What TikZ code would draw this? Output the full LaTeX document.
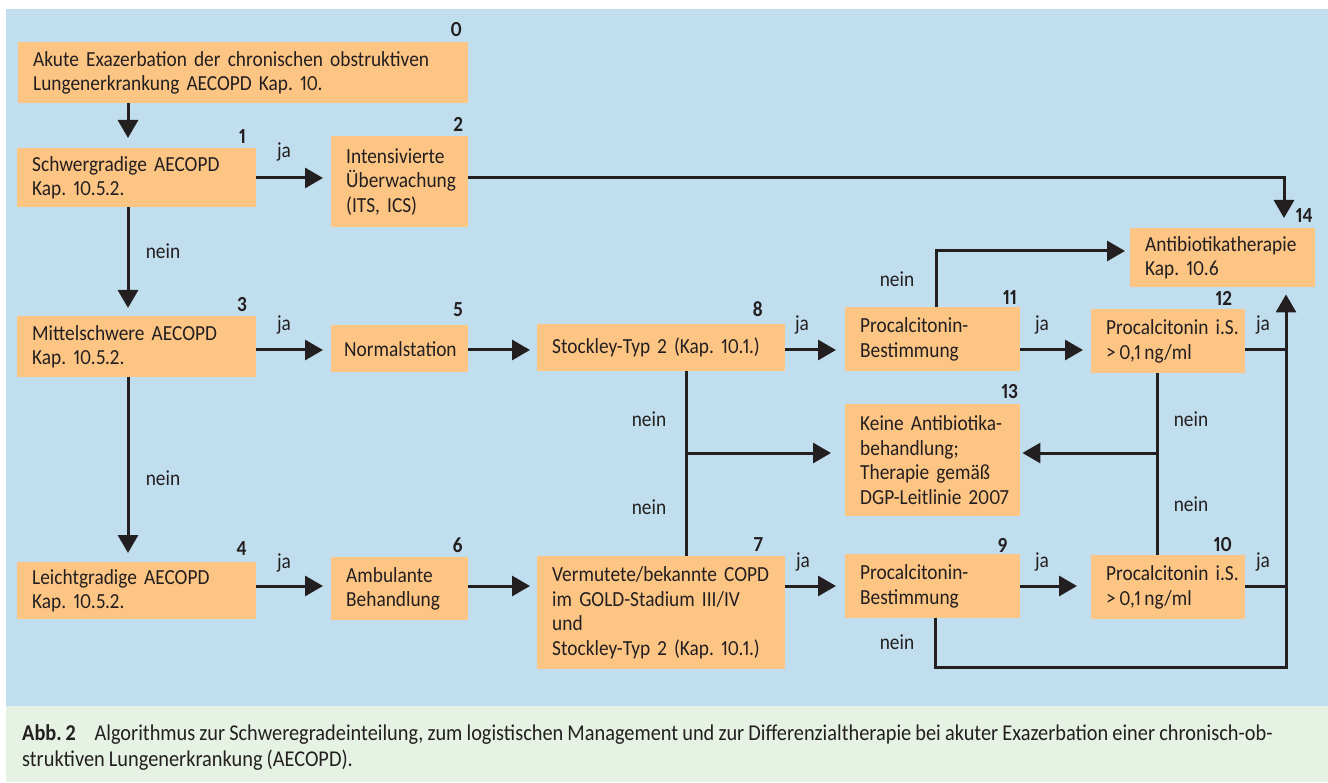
\documentclass[tikz,border=0pt]{standalone}
\usepackage{fontspec}
\setmainfont[FakeStretch=0.9, Numbers=Proportional, WordSpace={0.9,1,1}]{Carlito}
\usetikzlibrary{arrows.meta}
\frenchspacing
\definecolor{bgblue}{RGB}{193,222,238}
\definecolor{boxor}{RGB}{253,197,132}
\definecolor{capgreen}{RGB}{230,242,228}
\definecolor{ink}{RGB}{35,31,32}
\newcommand{\bodyfont}{\fontsize{21.5}{24.5}\selectfont\frenchspacing}
\newcommand{\capfont}{\fontsize{22.6}{26}\selectfont\frenchspacing}
\tikzset{
  fbox/.style={fill=boxor, draw=none, inner xsep=15pt, inner ysep=0pt, align=left,
    anchor=north west, font=\bodyfont, text=ink},
  numlab/.style={anchor=east, font=\bodyfont\bfseries, text=ink, inner sep=0pt},
  edgelab/.style={font=\bodyfont, text=ink, inner sep=0pt},
  arr/.style={line width=3pt, draw=ink, -{Triangle[length=18pt,width=20pt]}},
  ln/.style={line width=3pt, draw=ink},
}
\begin{document}
\begin{tikzpicture}[x=1pt,y=-1pt]
\useasboundingbox (0,0) rectangle (1328,783);
\fill[white] (0,0) rectangle (1328,783);
\fill[bgblue] (6,9) rectangle (1328,706);
\fill[capgreen] (6,706) rectangle (1328,782);

% boxes
\node[fbox, text width=420pt, minimum height=61pt] (B0) at (18,42) {Akute Exazerbation der chronischen obstruktiven\\Lungenerkrankung AECOPD Kap. 10.};
\node[fbox, text width=209pt, minimum height=59pt] (B1) at (17,148) {Schwergradige AECOPD\\Kap. 10.5.2.};
\node[fbox, text width=107pt, minimum height=91pt] (B2) at (331,136) {Intensivierte\\Überwachung\\(ITS, ICS)};
\node[fbox, text width=209pt, minimum height=61pt] (B3) at (17,316) {Mittelschwere AECOPD\\Kap. 10.5.2.};
\node[fbox, text width=111pt, minimum height=47pt, inner xsep=13pt] (B5) at (331,325) {Normalstation};
\node[fbox, text width=209pt, minimum height=57pt] (B4) at (17,562) {Leichtgradige AECOPD\\Kap. 10.5.2.};
\node[fbox, text width=107pt, minimum height=63pt] (B6) at (331,557) {Ambulante\\Behandlung};
\node[fbox, text width=218pt, minimum height=47pt] (B8) at (537,324) {Stockley-Typ 2 (Kap. 10.1.)};
\node[fbox, text width=218pt, minimum height=113pt] (B7) at (537,556) {Vermutete/bekannte COPD\\im GOLD-Stadium III/IV\\und\\Stockley-Typ 2 (Kap. 10.1.)};
\node[fbox, text width=145pt, minimum height=64pt] (B11) at (845,307) {Procalcitonin-\\Bestimmung};
\node[fbox, text width=124pt, minimum height=64pt] (B12) at (1091,309) {\mbox{Procalcitonin i.S.}\\\mbox{>\,0,1\,ng/ml}};
\node[fbox, text width=145pt, minimum height=112pt] (B13) at (845,404) {Keine Antibiotika-\\behandlung;\\Therapie gemäß\\\mbox{DGP-Leitlinie 2007}};
\node[fbox, text width=145pt, minimum height=64pt] (B9) at (845,554) {Procalcitonin-\\Bestimmung};
\node[fbox, text width=124pt, minimum height=64pt] (B10) at (1091,555) {\mbox{Procalcitonin i.S.}\\\mbox{>\,0,1\,ng/ml}};
\node[fbox, text width=155pt, minimum height=59pt] (B14) at (1130,228) {Antibiotikatherapie\\Kap. 10.6};

% numbers
\node[numlab] (n0) at (462,30) {0};
\node[numlab] (n1) at (246,137) {1};
\node[numlab] (n2) at (463,124) {2};
\node[numlab] (n3) at (247,305) {3};
\node[numlab] (n5) at (463,310) {5};
\node[numlab] (n4) at (247,549) {4};
\node[numlab] (n6) at (463,545) {6};
\node[numlab] (n8) at (763,309) {8};
\node[numlab] (n7) at (763,545) {7};
\node[numlab] (n11) at (1017,298) {11};
\node[numlab] (n12) at (1232,298) {12};
\node[numlab] (n14) at (1313,216) {14};
\node[numlab] (n13) at (1018,392) {13};
\node[numlab] (n9) at (1008,545) {9};
\node[numlab] (n10) at (1232,545) {10};

% helper coordinates
\coordinate (xL) at (128,0);
\coordinate (x8) at (686,0);
\coordinate (x11) at (936,0);
\coordinate (x9) at (935,0);
\coordinate (x12) at (1157,0);
\coordinate (xR) at (1286,0);
\coordinate (xT) at (1284,0);
\coordinate (y1) at (0,178);
\coordinate (y3) at (0,350);
\coordinate (y4) at (0,586);
\coordinate (yJ) at (0,453);
\coordinate (yTop) at (0,251);
\coordinate (yBot) at (0,667);
\coordinate (jL) at (x8 |- yJ);
\coordinate (jR) at (x12 |- yJ);
\coordinate (c2) at (xT |- y1);
\coordinate (c11) at (x11 |- yTop);
\coordinate (c9) at (x9 |- yBot);
\coordinate (cB) at (xR |- yBot);

% connectors left column
\draw[arr, shorten >=10pt] (B0.south -| xL) -- (B1.north -| xL);
\draw[arr, shorten >=8pt] (B1.south -| xL) -- (B3.north -| xL);
\draw[arr, shorten >=9pt] (B3.south -| xL) -- (B4.north -| xL);
\draw[arr, shorten >=8pt] (B1.east |- y1) -- (B2.west |- y1);
\draw[arr, shorten >=8pt] (B3.east |- y3) -- (B5.west |- y3);
\draw[arr, shorten >=8pt] (B4.east |- y4) -- (B6.west |- y4);
\draw[arr, shorten >=7pt] (B5.east |- y3) -- (B8.west |- y3);
\draw[arr, shorten >=7pt] (B6.east |- y4) -- (B7.west |- y4);
\draw[arr, shorten >=9pt] (B8.east |- y3) -- (B11.west |- y3);
\draw[arr, shorten >=9pt] (B7.east |- y4) -- (B9.west |- y4);
\draw[arr, shorten >=8pt] (B11.east |- y3) -- (B12.west |- y3);
\draw[arr, shorten >=14pt] (B9.east |- y4) -- (B10.west |- y4);

% to 14
\draw[arr, shorten >=10pt] (B2.east |- y1) -- (c2) -- (B14.north -| xT);
\draw[arr, shorten >=5pt] (B11.north -| x11) -- (c11) -- (B14.west |- yTop);
\draw[arr, shorten >=7pt] (B9.south -| x9) -- (c9) -- (cB) -- (B14.south -| xR);
\draw[ln] (B12.east |- y3) -- (B12.east |- y3 -| xR);
\draw[ln] (B10.east |- y4) -- (B10.east |- y4 -| xR);

% to 13
\draw[ln] (B8.south -| x8) -- (B7.north -| x8);
\draw[arr, shorten >=14pt] (jL) -- (B13.west |- yJ);
\draw[ln] (B12.south -| x12) -- (B10.north -| x12);
\draw[arr, shorten >=2pt] (jR) -- (B13.east |- yJ);

% edge labels
\node[edgelab] (l1) at (284,152) {ja};
\node[edgelab] (l2) at (163,251) {nein};
\node[edgelab] (l3) at (284,325) {ja};
\node[edgelab] (l4) at (163,478) {nein};
\node[edgelab] (l5) at (284,563) {ja};
\node[edgelab] (l6) at (802,325) {ja};
\node[edgelab] (l7) at (897,279) {nein};
\node[edgelab] (l8) at (1042,325) {ja};
\node[edgelab] (l9) at (1263,325) {ja};
\node[edgelab] (l10) at (649,419) {nein};
\node[edgelab] (l11) at (649,507) {nein};
\node[edgelab] (l12) at (803,562) {ja};
\node[edgelab] (l13) at (1042,562) {ja};
\node[edgelab] (l14) at (1263,562) {ja};
\node[edgelab] (l15) at (897,642) {nein};
\node[edgelab] (l16) at (1191,419) {nein};
\node[edgelab] (l17) at (1191,504) {nein};

% caption
\node[anchor=base west, inner sep=0pt, font=\capfont, text=ink] (cap1) at (22,740) {{\bfseries Abb.\,2}\hspace{19pt}Algorithmus zur Schweregradeinteilung, zum logistischen Management und zur Differenzialtherapie bei akuter Exazerbation einer chronisch-ob-};
\node[anchor=base west, inner sep=0pt, font=\capfont, text=ink] (cap2) at (22,766) {struktiven Lungenerkrankung (AECOPD).};
\end{tikzpicture}
\end{document}
